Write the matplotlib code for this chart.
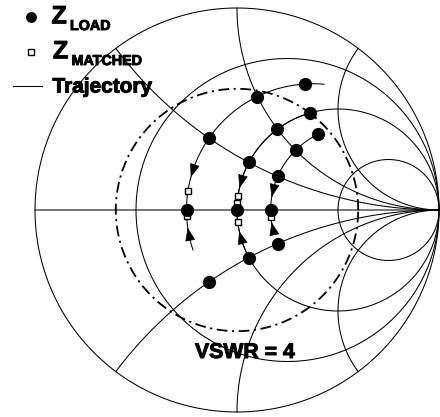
import numpy as np
import matplotlib
matplotlib.use("Agg")
import matplotlib.pyplot as plt
import matplotlib.patheffects as pe

FONT = ["Liberation Sans", "DejaVu Sans"]

# Smith chart grid values (normalized impedance)
GRID_R = [1 / 3, 1.0, 3.0]
GRID_X = [0.5, 1.0, 2.0, -0.5, -1.0, -2.0]

# load impedances: one trajectory per resistance, rows of reactance
LOAD_R = [0.6, 1.0, 1.4]
LOAD_X = [1.5, 1.0, 0.5, 0.0, -0.5]

# matched impedances (r, x)
MATCHED_R = [0.6, 0.6, 0.6, 1.0, 1.0, 1.0, 1.0, 1.4, 1.4, 1.4]
MATCHED_X = [0.12, 0.0, -0.04, 0.14, 0.066, 0.0, -0.116, 0.03, 0.0, -0.097]

# reactance span of each trajectory and arrow positions
TRAJ_X_START = [1.75, 1.5, 1.55]
TRAJ_X_END = [-0.26, -0.5, -0.2]
ARROW_X_UPPER = [0.25, 0.28, 0.27]
ARROW_X_LOWER = [-0.15, -0.27, -0.26]

VSWR = 4

W, H = 440, 417
CX, CY, RAD = 237.0, 210.0, 202.0

# text looks heavier than plain bold in the original
HEAVY = [pe.withStroke(linewidth=0.7, foreground="black")]


def gamma(z):
    return (z - 1) / (z + 1)


def px(x, y):
    """figure pixel (from top-left) -> figure fraction"""
    return x / W, 1 - y / H


def draw_grid(ax):
    kw = dict(color="black", lw=0.75, zorder=1)
    phi = np.linspace(-np.pi / 2 + 1e-4, np.pi / 2 - 1e-4, 3000)
    # outer circle (r = 0) and resistance circles
    for r in [0.0] + GRID_R:
        g = gamma(r + 1j * np.tan(phi))
        ax.plot(g.real, g.imag, **kw)
    # reactance arcs
    s = np.tan(np.linspace(0, np.pi / 2 - 1e-4, 3000))
    for x in GRID_X:
        g = gamma(s + 1j * x)
        ax.plot(g.real, g.imag, **kw)
    # real axis
    g = gamma(s + 0j)
    ax.plot(g.real, g.imag, **kw)


def add_arrow(ax, r, x_mid, direction):
    xs = np.linspace(x_mid - 0.4, x_mid + 0.4, 801)
    g = gamma(r + 1j * xs)
    arc = np.concatenate([[0], np.cumsum(np.abs(np.diff(g)))])
    s_mid = np.interp(x_mid, xs, arc)
    h = 0.029
    s_tip, s_tail = s_mid + direction * h, s_mid - direction * h
    tip = np.interp(s_tip, arc, g.real) + 1j * np.interp(s_tip, arc, g.imag)
    tail = np.interp(s_tail, arc, g.real) + 1j * np.interp(s_tail, arc, g.imag)
    ax.annotate("", xy=(tip.real, tip.imag), xytext=(tail.real, tail.imag),
                arrowprops=dict(arrowstyle="-|>,head_length=0.85,head_width=0.32",
                                mutation_scale=10, color="black", lw=0.5,
                                shrinkA=0, shrinkB=0), zorder=3)


fig = plt.figure(figsize=(W / 100, H / 100), dpi=100)
ax = fig.add_axes([0, 0, 1, 1])
ax.set_xlim(-CX / RAD, (W - CX) / RAD)
ax.set_ylim((CY - H) / RAD, CY / RAD)
ax.axis("off")

draw_grid(ax)

# VSWR circle
t = np.linspace(0, 2 * np.pi, 800)
rho = (VSWR - 1) / (VSWR + 1)
ax.plot(rho * np.cos(t), rho * np.sin(t), color="black", lw=1.3,
        linestyle=(0, (6, 2.5, 1.2, 2.5)), zorder=2)

# trajectories
for r, x0, x1, xu, xl in zip(LOAD_R, TRAJ_X_START, TRAJ_X_END, ARROW_X_UPPER, ARROW_X_LOWER):
    xs = np.linspace(x0, x1, 400)
    g = gamma(r + 1j * xs)
    ax.plot(g.real, g.imag, color="black", lw=0.75, zorder=2)
    add_arrow(ax, r, xu, -1)
    add_arrow(ax, r, xl, +1)

# matched impedances
gm = gamma(np.array(MATCHED_R) + 1j * np.array(MATCHED_X))
ax.plot(gm.real, gm.imag, "s", ms=4.6, mfc="white", mec="black", mew=1.0,
        linestyle="none", zorder=4)

# load impedances
zl = np.array([r + 1j * x for r in LOAD_R for x in LOAD_X])
gl = gamma(zl)
ax.plot(gl.real, gl.imag, "o", ms=8.5, color="black", linestyle="none", zorder=5)

# VSWR label
ax.text(*px(195, 358), "VSWR = 4", transform=fig.transFigure, ha="left",
        va="baseline", fontsize=15.3, fontweight="bold", family=FONT, zorder=6,
        path_effects=HEAVY)

# legend drawn by hand
ax.plot(*px(30.7, 17.3), "o", ms=6.8, color="black", transform=fig.transFigure,
        clip_on=False)
ax.plot(*px(30.7, 51.7), "s", ms=4.3, mfc="white", mec="black", mew=1.0,
        transform=fig.transFigure, clip_on=False)
x_a, y_a = px(13.3, 86)
x_b, _ = px(41.7, 86)
ax.plot([x_a, x_b], [y_a, y_a], color="black", lw=0.75, transform=fig.transFigure,
        clip_on=False)

legend_texts = [
    (51.5, 23.3, "Z", 18),
    (70, 30, "LOAD", 10.3),
    (53, 58.3, "Z", 18),
    (71.5, 65, "MATCHED", 10.3),
    (52.5, 92.5, "Trajectory", 15),
]
for x, y, s, size in legend_texts:
    ax.text(*px(x, y), s, transform=fig.transFigure, va="baseline",
            fontsize=size, fontweight="bold", family=FONT, path_effects=HEAVY)

fig.savefig("out.png", dpi=100)
